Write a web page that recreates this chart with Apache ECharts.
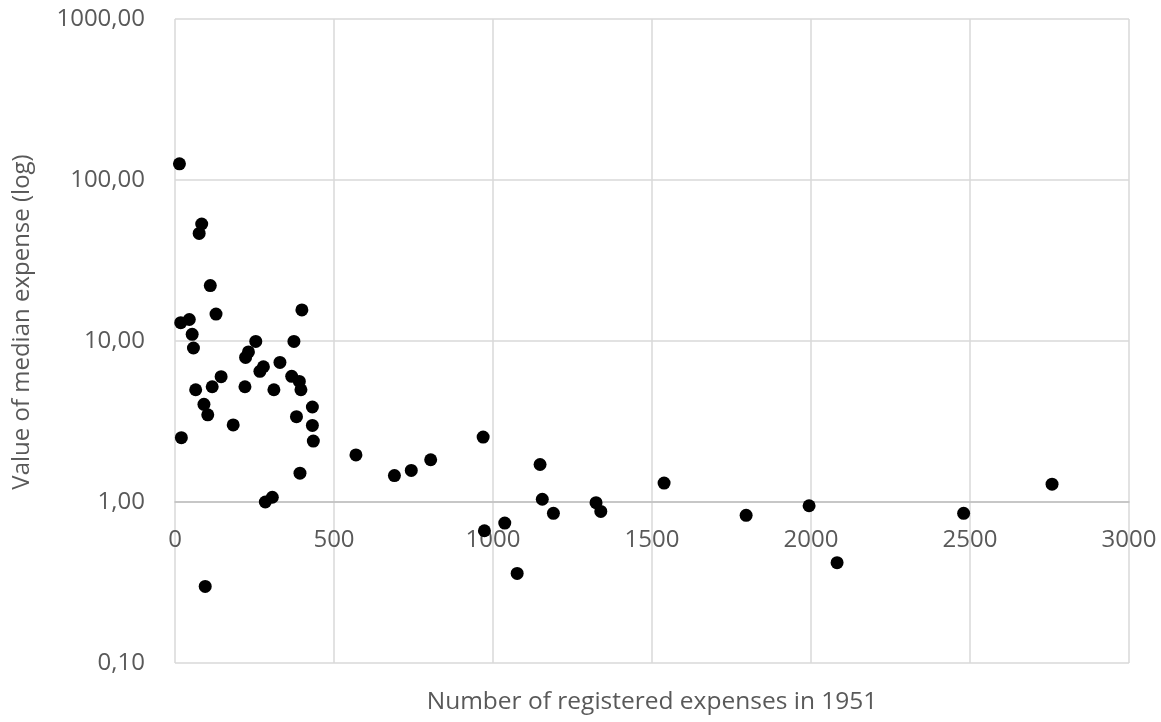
<!DOCTYPE html>
<html><head><meta charset="utf-8">
<script src="https://cdn.jsdelivr.net/npm/echarts@6/dist/echarts.min.js"></script>
<style>html,body{margin:0;padding:0;background:#fff}#c{width:1161px;height:722px}</style>
</head><body><div id="c"></div>
<script>
const xValues = [14,84,76,111,129,399,18,45,54,58,254,374,231,222,330,278,267,367,391,396,145,117,65,220,311,91,103,432,382,183,432,435,20,569,393,306,284,95,690,743,804,969,973,1037,1076,1148,1155,1190,1324,1339,1538,1796,1994,2082,2480,2758];
const yValues = [126,53.3,46.6,22.1,14.7,15.6,13.0,13.6,11.0,9.05,9.94,9.94,8.55,7.91,7.36,6.92,6.48,6.03,5.61,4.98,6.0,5.2,4.98,5.2,4.98,4.04,3.48,3.89,3.39,3.01,2.99,2.39,2.51,1.96,1.51,1.07,1.0,0.299,1.46,1.57,1.83,2.53,0.663,0.74,0.36,1.71,1.04,0.85,0.99,0.874,1.31,0.826,0.948,0.42,0.85,1.29];
const xTicks = {min: 0, max: 3000, interval: 500};
const yTicks = {min: 0.1, max: 1000};
const xName = 'Number of registered expenses in 1951';
const yName = 'Value of median expense (log)';

const points = xValues.map((x, i) => [x, yValues[i]]);
const font = '"Open Sans", "Noto Sans", sans-serif';
const chart = echarts.init(document.getElementById('c'));
chart.setOption({
  animation: false,
  grid: {left: 175, top: 19, width: 954, height: 644, containLabel: false},
  xAxis: {
    type: 'value', min: xTicks.min, max: xTicks.max, interval: xTicks.interval,
    position: 'bottom', offset: -161,
    axisLine: {show: true, onZero: false, lineStyle: {color: '#bfbfbf', width: 1.5}},
    axisTick: {show: false},
    axisLabel: {color: '#595959', fontSize: 24, fontFamily: font, margin: 26,
      formatter: v => String(Math.round(v))},
    splitLine: {show: true, lineStyle: {color: '#d9d9d9', width: 1.5}},
    name: xName, nameLocation: 'middle', nameGap: 188,
    nameTextStyle: {color: '#595959', fontSize: 24.5, fontFamily: font}
  },
  yAxis: {
    type: 'log', logBase: 10, min: yTicks.min, max: yTicks.max,
    axisLine: {show: false}, axisTick: {show: false},
    axisLabel: {color: '#595959', fontSize: 24, fontFamily: font, margin: 30,
      formatter: v => Number(v).toFixed(2).replace('.', ',')},
    splitLine: {show: true, lineStyle: {color: '#d9d9d9', width: 1.5}},
    name: yName, nameLocation: 'middle', nameGap: 141,
    nameTextStyle: {color: '#595959', fontSize: 24, fontFamily: font, padding: [0, 0, 0, 38]}
  },
  series: [{
    type: 'scatter', data: points, symbol: 'circle', symbolSize: 13,
    itemStyle: {color: '#000000', opacity: 1}
  }]
});
</script></body></html>
